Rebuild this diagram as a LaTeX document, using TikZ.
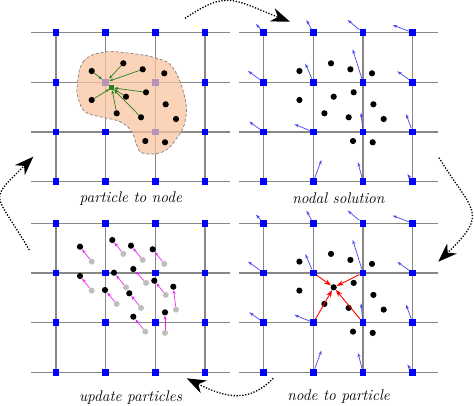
\documentclass[tikz,border=0pt]{standalone}
\usetikzlibrary{arrows.meta}
\definecolor{gridgray}{RGB}{135,135,135}
\definecolor{nodeblue}{RGB}{0,0,255}
\definecolor{blobfill}{RGB}{248,196,160}
\definecolor{greenarr}{RGB}{40,130,30}
\definecolor{velblue}{RGB}{70,70,235}
\definecolor{magarr}{RGB}{230,40,230}
\definecolor{oldgray}{RGB}{190,190,190}
\tikzset{
 gridline/.style={draw=gridgray, line width=1.3pt},
 gnode/.style={rectangle, fill=nodeblue, minimum size=6.8pt, inner sep=0pt},
 part/.style={circle, fill=black, minimum size=6.2pt, inner sep=0pt},
 oldpart/.style={circle, fill=oldgray, minimum size=6pt, inner sep=0pt},
 greensq/.style={rectangle, fill=greenarr, minimum size=4.5pt, inner sep=0pt},
 lbl/.style={font=\fontsize{15.5}{17}\selectfont\itshape, inner sep=0pt},
 cyc/.style={line width=1.3pt, dash pattern=on 1.3pt off 1.6pt, -{Stealth[length=19pt,width=14pt,inset=6pt]}},
 p2n/.style={draw=greenarr, line width=0.7pt, -{Stealth[length=4pt,width=3pt]}},
 vel/.style={draw=velblue, line width=0.7pt, -{Stealth[length=4.5pt,width=3pt]}},
 n2p/.style={draw=red, line width=0.9pt, -{Stealth[length=7pt,width=5pt]}},
 upd/.style={draw=magarr, line width=0.7pt, -{Stealth[length=4pt,width=3pt]}},
 blob/.style={fill=blobfill, fill opacity=0.75, draw=gray, dash pattern=on 3pt off 2pt, line width=0.7pt},
}
\def\partlist{1/91.7/71,2/123.3/63.3,3/142.7/69.3,4/164.3/73.3,5/91.7/100,6/126/96.7,7/146/92.3,8/165.7/104.3,9/116.7/113.3,10/141/117.3,11/176/119,12/145.3/141,13/165/142.3}
\def\newlist{1/80/246.7,2/112.3/240,3/131/245.7,4/152.7/249.3,5/80/276,6/114/272.7,7/133.3/269,8/154.3/280.7,9/105/290,10/129.3/293.3,11/173.3/286.7,12/133.3/316.7,13/165/312.3}
\def\vellist{0/0/-7.7/-8.7,1/0/-7/-12.7,2/0/-15.3/-12.7,3/0/-20/-7.7,0/1/-15.7/-11.3,1/1/-8/-18.7,2/1/-10.3/-33,3/1/-15.3/-11,0/2/-14.4/-10.3,1/2/-19/-7.7,2/2/-2/-19.3,3/2/-6.7/-18,1/3/8/-21.7,2/3/-5/-19.4,3/3/-5.3/-7.7}
\begin{document}
\begin{tikzpicture}[x=1pt,y=-1pt]
\useasboundingbox (0,0) rectangle (474,405);
% grid lines
\foreach \ox/\oy in {0/0,207.7/0,0/190.6,207.7/190.6}{
  \foreach \y in {32.7,82.3,132,181.7}
    \draw[gridline] (31+\ox,\y+\oy) -- (230+\ox,\y+\oy);
  \foreach \x in {56,105.7,155.3,205}
    \draw[gridline] (\x+\ox,32.7+\oy) -- (\x+\ox,181.7+\oy);
}
% grid nodes
\foreach \P/\ox/\oy in {A/0/0,B/207.7/0,C/0/190.6,D/207.7/190.6}{
  \foreach \i/\x in {0/56,1/105.7,2/155.3,3/205}{
    \foreach \j/\y in {0/32.7,1/82.3,2/132,3/181.7}{
      \node[gnode] (\P-\i-\j) at (\x+\ox,\y+\oy) {};
    }
  }
}
% ---- panel A: particle to node
\path[blob] plot[smooth cycle, tension=0.7] coordinates {(77.3,85) (83.3,61.7) (103.3,52.3) (130,53.3) (156.7,58.3) (173.3,68.3) (185,98.3) (185,121.7) (176.7,138.3) (163.3,151.7) (143.3,153.3) (136.7,145) (131.7,131.7) (120,121.7) (100,116.7) (85,111.7) (78.3,98.3)};
\foreach \k/\x/\y in \partlist
  \node[part] (Ap-\k) at (\x,\y) {};
\node[greensq] (g) at (111.7,87.7) {};
\foreach \k in {1,2,3}
  \draw[p2n] (Ap-\k) -- (A-1-1);
\foreach \k in {5,6,7,9,10}
  \draw[p2n] (Ap-\k) -- (g);
% ---- panel B: nodal solution
\foreach \k/\x/\y in \partlist
  \node[part] (Bp-\k) at (\x+207.7,\y) {};
% ---- panel D: node to particle
\foreach \k/\x/\y in \partlist
  \node[part] (Dp-\k) at (\x+207.7,\y+190.6) {};
\foreach \P in {B,D}{
  \foreach \i/\j/\dx/\dy in \vellist{
    \path (\P-\i-\j.center) ++(\dx,\dy) coordinate (\P v-\i-\j);
    \draw[vel] (\P-\i-\j) -- (\P v-\i-\j);
  }
}
\foreach \i/\j in {1/1,2/1,1/2,2/2}
  \draw[n2p] (D-\i-\j) -- (Dp-6);
% ---- panel C: update particles
\foreach \k/\x/\y in \partlist
  \node[oldpart] (Co-\k) at (\x,\y+190.6) {};
\foreach \k/\x/\y in \newlist
  \node[part] (Cn-\k) at (\x,\y) {};
\foreach \k in {1,...,13}
  \draw[upd] (Co-\k) -- (Cn-\k);
% ---- labels
\node[lbl] (la) at (130.8,198.5) {particle to node};
\node[lbl] (lb) at (338.4,198.5) {nodal solution};
\node[lbl] (lc) at (130.5,397.5) {update particles};
\node[lbl] (ld) at (338.7,396.7) {node to particle};
% ---- cycle arrows
\coordinate (t0) at (185,18.3);
\coordinate (t1) at (290,21.7);
\coordinate (r0) at (439,157.7);
\coordinate (r1) at (438.3,261.7);
\coordinate (b0) at (273.3,378.3);
\coordinate (b1) at (186.7,378.3);
\coordinate (l0) at (29.3,250);
\coordinate (l1) at (33.3,156.7);
\draw[cyc] (t0) .. controls (227.8,-10.1) and (232.4,-0.6) .. (t1);
\draw[cyc] (r0) .. controls (472.2,211.9) and (490,212) .. (r1);
\draw[cyc] (b0) .. controls (249.6,402) and (228.3,399.1) .. (b1);
\draw[cyc] (l0) .. controls (-5.4,190.4) and (-12.8,202.8) .. (l1);
\end{tikzpicture}
\end{document}
